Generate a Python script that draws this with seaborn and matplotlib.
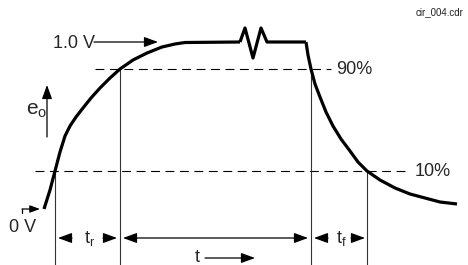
import numpy as np
import pandas as pd
import matplotlib
matplotlib.use("Agg")
import matplotlib.pyplot as plt
import seaborn as sns

rise_x = [44, 50, 55, 60, 65, 70, 76, 83, 91, 100, 110, 120, 133, 147, 162, 175, 185, 240]
rise_y = [209, 190, 171, 152, 136, 126, 117, 108, 98, 88, 78, 69, 60, 53, 47, 44, 42.5, 42]
break_x = [240, 245, 253, 261, 267, 306]
break_y = [42, 28, 58, 28, 42, 42]
fall_x = [306, 308, 311, 315, 320, 326, 333, 341, 350, 358, 367, 380, 395, 410, 425, 440, 457]
fall_y = [42, 55, 69, 84, 97, 112, 126, 139, 151, 162, 171, 180, 188, 194, 198, 202, 204]

level_names = ["90%", "10%"]
level_y = [69, 171]
level_start = [95, 35]
level_end = [331, 410]

guide_x = [55, 120, 311, 367]
guide_top = [171, 69, 69, 171]
guide_bottom = 265

dim_y = 238

sns.set_theme(style="white")
plt.rcParams["font.family"] = ["Liberation Sans", "DejaVu Sans"]
plt.rcParams["mathtext.fontset"] = "custom"
plt.rcParams["mathtext.rm"] = "Liberation Sans"
plt.rcParams["mathtext.it"] = "Liberation Sans"

fig = plt.figure(figsize=(4.68, 2.65), dpi=100)
ax = fig.add_axes([0, 0, 1, 1])

wave = pd.concat([
    pd.DataFrame({"x": rise_x, "y": rise_y, "part": "rise"}),
    pd.DataFrame({"x": break_x, "y": break_y, "part": "break"}),
    pd.DataFrame({"x": fall_x, "y": fall_y, "part": "fall"}),
])
sns.lineplot(data=wave, x="x", y="y", units="part", estimator=None, sort=False,
             color="black", lw=2.3, ax=ax, zorder=5,
             solid_joinstyle="round", solid_capstyle="butt")
ax.set_xlim(0, 468)
ax.set_ylim(265, 0)
ax.axis("off")

# 90% / 10% levels
ax.hlines(level_y, level_start, level_end, colors="black", lw=0.8, linestyles=(0, (8, 5)), zorder=3)
for name, y, x1 in zip(level_names, level_y, level_end):
    ax.text(x1 + 5, y + 1, name, fontsize=13, ha="left", va="center")

# guides down to the time axis
ax.vlines(guide_x, guide_top, guide_bottom, colors="#333333", lw=0.8, zorder=3)

head = "-|>,head_length=0.6,head_width=0.22"
both = "<|-|>,head_length=0.6,head_width=0.22"
def arrow(tail, tip, style=head, scale=14):
    ax.annotate("", xy=tip, xytext=tail,
                arrowprops=dict(arrowstyle=style, mutation_scale=scale, lw=0.9,
                                color="black", shrinkA=0, shrinkB=0))

# labels with pointers
ax.text(53, 43, "1.0 V", fontsize=13, ha="left", va="center")
arrow((94, 42), (158, 42))
ax.text(26, 111, r"$\mathrm{e_o}$", fontsize=15, ha="left", va="center")
arrow((47, 137), (47, 85))
ax.text(9, 228, "0 V", fontsize=13, ha="left", va="center")
ax.plot([22, 22], [213, 209], color="black", lw=0.9)
arrow((22, 209), (40, 209), scale=10)

# rise / width / fall dimensions
ax.text(90, dim_y, r"$\mathrm{t_r}$", fontsize=13, ha="center", va="center")
arrow((72, dim_y), (58, dim_y))
arrow((103, dim_y), (117, dim_y))
arrow((123, dim_y), (308, dim_y), style=both)
ax.text(341, dim_y, r"$\mathrm{t_f}$", fontsize=13, ha="center", va="center")
arrow((328, dim_y), (314, dim_y))
arrow((351, dim_y), (365, dim_y))
ax.text(197, 258, "t", fontsize=13, ha="center", va="center")
arrow((205, 258), (255, 258))

ax.text(463, 12, "cir_004.cdr", fontsize=7, ha="right", va="center", color="#222222")

fig.savefig("out.png", dpi=100)
